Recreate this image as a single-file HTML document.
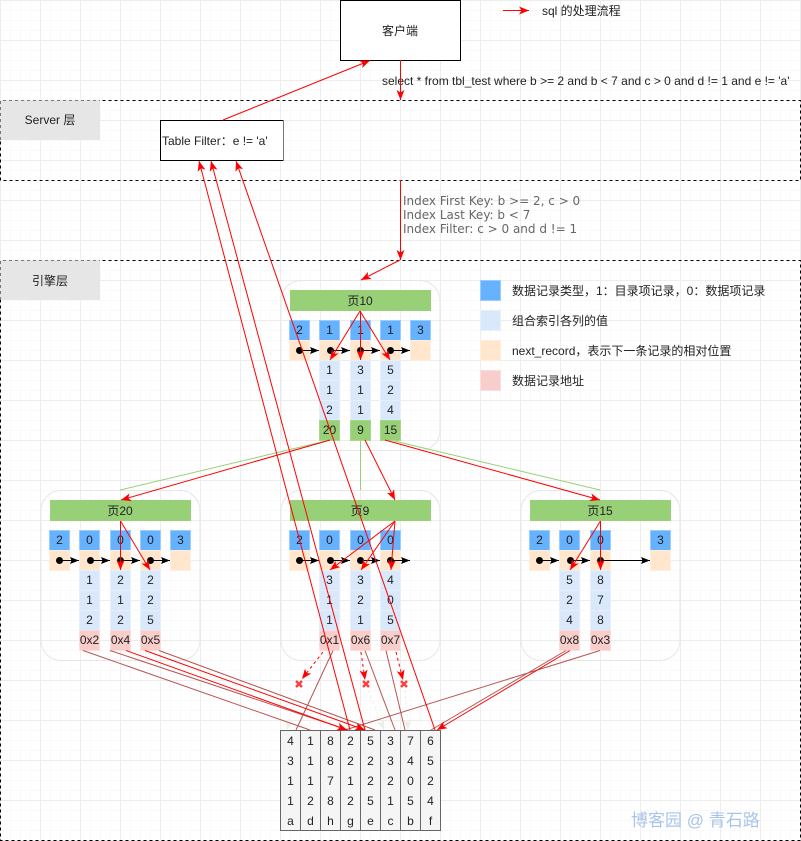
<!DOCTYPE html>
<html><head><meta charset="utf-8">
<style>
html,body{margin:0;padding:0;background:#fff;width:801px;height:841px;overflow:hidden}
svg{display:block}
text{font-family:"Liberation Sans","Noto Sans CJK SC",sans-serif;font-size:12px;fill:#222}
.m{text-anchor:middle}
.idx{font-family:"DejaVu Sans","Noto Sans CJK SC",sans-serif;font-size:12px;fill:#666}
.r{stroke:#f00;stroke-width:1;fill:none;marker-end:url(#ar)}
.rd{stroke:#f00;stroke-width:1;fill:none;stroke-dasharray:3 3;marker-end:url(#ar)}
.b{stroke:#b85450;stroke-width:1;fill:none}
.g{stroke:#97d077;stroke-width:1;fill:none}
.k{stroke:#000;stroke-width:1;fill:none;marker-end:url(#ak)}
.f{stroke:#eee;stroke-width:1;fill:none;stroke-dasharray:3 3;marker-end:url(#af)}
</style></head>
<body>
<svg xmlns="http://www.w3.org/2000/svg" width="801" height="841" viewBox="0 0 801 841">
<defs>
<pattern id="gmin" width="10" height="10" patternUnits="userSpaceOnUse"><path d="M0.5 0V10M0 0.5H10" stroke="#f9f9f9" stroke-width="1" fill="none"/></pattern>
<pattern id="gmaj" width="40" height="40" patternUnits="userSpaceOnUse"><path d="M0.5 0V40M0 0.5H40" stroke="#ededed" stroke-width="1" fill="none"/></pattern>
<marker id="ar" markerUnits="userSpaceOnUse" markerWidth="12" markerHeight="10" refX="10" refY="5" orient="auto"><path d="M0 1 L10 5 L0 9 L2.5 5 Z" fill="#f00"/></marker>
<marker id="ak" markerUnits="userSpaceOnUse" markerWidth="12" markerHeight="10" refX="10" refY="5" orient="auto"><path d="M1 1.5 L10 5 L1 8.5 L2.5 5 Z" fill="#000"/></marker>
<marker id="af" markerUnits="userSpaceOnUse" markerWidth="12" markerHeight="10" refX="10" refY="5" orient="auto"><path d="M0 1 L10 5 L0 9 L2.5 5 Z" fill="#eee"/></marker>
<g id="hd"><rect x="0" y="0" width="20" height="20" fill="#66b2ff" stroke="#99ccff"/><rect x="0" y="20" width="20" height="20" fill="#ffe6cc" stroke="#ffeedd"/></g>
<g id="cl"><rect x="0" y="0" width="20" height="20" fill="#dae8fc" stroke="#e6effc"/><rect x="0" y="20" width="20" height="20" fill="#dae8fc" stroke="#e6effc"/><rect x="0" y="40" width="20" height="20" fill="#dae8fc" stroke="#e6effc"/></g>
<rect id="ad" x="0" y="0" width="20" height="20" fill="#f8cecc" stroke="#fbdedc"/>
<rect id="gr" x="0" y="0" width="20" height="20" fill="#97d077" stroke="#a6d98a"/>
</defs>

<rect width="801" height="841" fill="#fff"/>
<rect width="801" height="841" fill="url(#gmin)"/>
<rect width="801" height="841" fill="url(#gmaj)"/>

<!-- layers -->
<rect x="0.5" y="100.5" width="800" height="80" fill="none" stroke="#000" stroke-dasharray="3 3"/>
<rect x="0.5" y="260.5" width="800" height="580" fill="none" stroke="#000" stroke-dasharray="3 3"/>
<rect x="0" y="100" width="100" height="40" fill="#e6e6e6"/>
<rect x="0" y="260" width="100" height="40" fill="#e6e6e6"/>
<path d="M0.5 140V100.5H100M0.5 300V260.5H100" fill="none" stroke="#777" stroke-dasharray="3 3"/>
<text class="m" x="50" y="124">Server 层</text>
<text class="m" x="50" y="285">引擎层</text>

<!-- top boxes -->
<rect x="340.5" y="0.5" width="120" height="60" fill="#fff" stroke="#000"/>
<text class="m" x="400" y="35">客户端</text>
<rect x="160.5" y="120.5" width="123" height="40" fill="#fff" stroke="#000"/>
<path d="M283.5 120V161" stroke="#777" fill="none"/>
<text x="162" y="145">Table Filter：e != 'a'</text>
<text x="382" y="85">select * from tbl_test where b &gt;= 2 and b &lt; 7 and c &gt; 0 and d != 1 and e != 'a'</text>
<text x="542" y="15">sql 的处理流程</text>
<text class="idx" x="403" y="205">Index First Key:  b &gt;= 2, c &gt; 0</text>
<text class="idx" x="403" y="219">Index Last Key:  b &lt; 7</text>
<text class="idx" x="403" y="233">Index Filter:  c &gt; 0 and d != 1</text>

<!-- legend -->
<rect x="480.5" y="280.5" width="20" height="20" fill="#66b2ff" stroke="#99ccff"/>
<rect x="480.5" y="310.5" width="20" height="20" fill="#dae8fc" stroke="#e6effc"/>
<rect x="480.5" y="340.5" width="20" height="20" fill="#ffe6cc" stroke="#ffeedd"/>
<rect x="480.5" y="370.5" width="20" height="20" fill="#f8cecc" stroke="#fbdedc"/>
<text x="512" y="295">数据记录类型，1：目录项记录，0：数据项记录</text>
<text x="512" y="325">组合索引各列的值</text>
<text x="512" y="355">next_record，表示下一条记录的相对位置</text>
<text x="512" y="385">数据记录地址</text>

<!-- containers -->
<rect x="281" y="280.5" width="159" height="170" rx="20" fill="none" stroke="#e6e6e6"/>
<rect x="41" y="490.5" width="159" height="170" rx="20" fill="none" stroke="#e6e6e6"/>
<rect x="281" y="490.5" width="159" height="170" rx="20" fill="none" stroke="#e6e6e6"/>
<rect x="521" y="490.5" width="159" height="170" rx="20" fill="none" stroke="#e6e6e6"/>

<!-- green connectors -->
<path class="g" d="M330 440L120 490M360.5 440V490M390 440L600 490"/>

<!-- headers -->
<rect x="290" y="290" width="141" height="21" fill="#97d077"/>
<rect x="50" y="500" width="141" height="21" fill="#97d077"/>
<rect x="290" y="500" width="141" height="21" fill="#97d077"/>
<rect x="530" y="500" width="141" height="21" fill="#97d077"/>
<text class="m" x="360" y="305">页10</text>
<text class="m" x="120" y="515">页20</text>
<text class="m" x="360" y="515">页9</text>
<text class="m" x="600" y="515">页15</text>

<!-- page 10 cells -->
<use href="#hd" x="289.5" y="320.5"/><use href="#hd" x="319.5" y="320.5"/><use href="#hd" x="350.5" y="320.5"/><use href="#hd" x="380.5" y="320.5"/><use href="#hd" x="410.5" y="320.5"/>
<use href="#cl" x="319.5" y="360.5"/><use href="#cl" x="350.5" y="360.5"/><use href="#cl" x="380.5" y="360.5"/>
<use href="#gr" x="319.5" y="420.5"/><use href="#gr" x="350.5" y="420.5"/><use href="#gr" x="380.5" y="420.5"/>
<text class="m" x="299.5" y="334">2</text><text class="m" x="329.5" y="334">1</text><text class="m" x="360.5" y="334">1</text><text class="m" x="390.5" y="334">1</text><text class="m" x="420.5" y="334">3</text>
<text class="m" x="329.5" y="374">1</text><text class="m" x="360.5" y="374">3</text><text class="m" x="390.5" y="374">5</text>
<text class="m" x="329.5" y="394">1</text><text class="m" x="360.5" y="394">1</text><text class="m" x="390.5" y="394">2</text>
<text class="m" x="329.5" y="414">2</text><text class="m" x="360.5" y="414">1</text><text class="m" x="390.5" y="414">4</text>
<text class="m" x="329.5" y="434">20</text><text class="m" x="360.5" y="434">9</text><text class="m" x="390.5" y="434">15</text>

<!-- page 20 cells -->
<use href="#hd" x="49.5" y="530.5"/><use href="#hd" x="79.5" y="530.5"/><use href="#hd" x="110.5" y="530.5"/><use href="#hd" x="140.5" y="530.5"/><use href="#hd" x="170.5" y="530.5"/>
<use href="#cl" x="79.5" y="570.5"/><use href="#cl" x="110.5" y="570.5"/><use href="#cl" x="140.5" y="570.5"/>
<use href="#ad" x="79.5" y="630.5"/><use href="#ad" x="110.5" y="630.5"/><use href="#ad" x="140.5" y="630.5"/>
<text class="m" x="59.5" y="544">2</text><text class="m" x="89.5" y="544">0</text><text class="m" x="120.5" y="544">0</text><text class="m" x="150.5" y="544">0</text><text class="m" x="180.5" y="544">3</text>
<text class="m" x="89.5" y="584">1</text><text class="m" x="120.5" y="584">2</text><text class="m" x="150.5" y="584">2</text>
<text class="m" x="89.5" y="604">1</text><text class="m" x="120.5" y="604">1</text><text class="m" x="150.5" y="604">2</text>
<text class="m" x="89.5" y="624">2</text><text class="m" x="120.5" y="624">2</text><text class="m" x="150.5" y="624">5</text>
<text class="m" x="89.5" y="644">0x2</text><text class="m" x="120.5" y="644">0x4</text><text class="m" x="150.5" y="644">0x5</text>

<!-- page 9 cells -->
<use href="#hd" x="289.5" y="530.5"/><use href="#hd" x="319.5" y="530.5"/><use href="#hd" x="350.5" y="530.5"/><use href="#hd" x="380.5" y="530.5"/>
<use href="#cl" x="319.5" y="570.5"/><use href="#cl" x="350.5" y="570.5"/><use href="#cl" x="380.5" y="570.5"/>
<use href="#ad" x="319.5" y="630.5"/><use href="#ad" x="350.5" y="630.5"/><use href="#ad" x="380.5" y="630.5"/>
<text class="m" x="299.5" y="544">2</text><text class="m" x="329.5" y="544">0</text><text class="m" x="360.5" y="544">0</text><text class="m" x="390.5" y="544">0</text>
<text class="m" x="329.5" y="584">3</text><text class="m" x="360.5" y="584">3</text><text class="m" x="390.5" y="584">4</text>
<text class="m" x="329.5" y="604">1</text><text class="m" x="360.5" y="604">2</text><text class="m" x="390.5" y="604">0</text>
<text class="m" x="329.5" y="624">1</text><text class="m" x="360.5" y="624">1</text><text class="m" x="390.5" y="624">5</text>
<text class="m" x="329.5" y="644">0x1</text><text class="m" x="360.5" y="644">0x6</text><text class="m" x="390.5" y="644">0x7</text>

<!-- page 15 cells -->
<use href="#hd" x="529.5" y="530.5"/><use href="#hd" x="559.5" y="530.5"/><use href="#hd" x="590.5" y="530.5"/><use href="#hd" x="650.5" y="530.5"/>
<use href="#cl" x="559.5" y="570.5"/><use href="#cl" x="590.5" y="570.5"/>
<use href="#ad" x="559.5" y="630.5"/><use href="#ad" x="590.5" y="630.5"/>
<text class="m" x="539.5" y="544">2</text><text class="m" x="569.5" y="544">0</text><text class="m" x="600.5" y="544">0</text><text class="m" x="660.5" y="544">3</text>
<text class="m" x="569.5" y="584">5</text><text class="m" x="600.5" y="584">8</text>
<text class="m" x="569.5" y="604">2</text><text class="m" x="600.5" y="604">7</text>
<text class="m" x="569.5" y="624">4</text><text class="m" x="600.5" y="624">8</text>
<text class="m" x="569.5" y="644">0x8</text><text class="m" x="600.5" y="644">0x3</text>

<!-- black next-record arrows -->
<g fill="#000">
<circle cx="299.5" cy="350.5" r="3.5"/><circle cx="330.5" cy="350.5" r="3.5"/><circle cx="360.5" cy="350.5" r="3.5"/><circle cx="390.5" cy="350.5" r="3.5"/>
<circle cx="59.5" cy="560.5" r="3.5"/><circle cx="90.5" cy="560.5" r="3.5"/><circle cx="120.5" cy="560.5" r="3.5"/><circle cx="150.5" cy="560.5" r="3.5"/>
<circle cx="299.5" cy="560.5" r="3.5"/><circle cx="330.5" cy="560.5" r="3.5"/><circle cx="360.5" cy="560.5" r="3.5"/><circle cx="390.5" cy="560.5" r="3.5"/>
<circle cx="539.5" cy="560.5" r="3.5"/><circle cx="570.5" cy="560.5" r="3.5"/><circle cx="600.5" cy="560.5" r="3.5"/>
</g>
<path class="k" d="M299 350.5H319"/><path class="k" d="M330 350.5H350"/><path class="k" d="M360 350.5H380"/><path class="k" d="M390 350.5H410"/>
<path class="k" d="M59 560.5H79"/><path class="k" d="M90 560.5H110"/><path class="k" d="M120 560.5H140"/><path class="k" d="M150 560.5H170"/>
<path class="k" d="M299 560.5H319"/><path class="k" d="M330 560.5H350"/><path class="k" d="M360 560.5H380"/><path class="k" d="M390 560.5H410"/>
<path class="k" d="M539 560.5H559"/><path class="k" d="M570 560.5H590"/><path class="k" d="M600 560.5H650"/>

<!-- bottom table -->
<g fill="#f5f5f5" stroke="#666">
<rect x="280.5" y="730.5" width="20" height="100"/><rect x="300.5" y="730.5" width="20" height="100"/><rect x="320.5" y="730.5" width="20" height="100"/><rect x="340.5" y="730.5" width="20" height="100"/><rect x="360.5" y="730.5" width="20" height="100"/><rect x="380.5" y="730.5" width="20" height="100"/><rect x="400.5" y="730.5" width="20" height="100"/><rect x="420.5" y="730.5" width="20" height="100"/>
</g>
<g>
<text class="m" x="290.5" y="745">4</text><text class="m" x="310.5" y="745">1</text><text class="m" x="330.5" y="745">8</text><text class="m" x="350.5" y="745">2</text><text class="m" x="370.5" y="745">5</text><text class="m" x="390.5" y="745">3</text><text class="m" x="410.5" y="745">7</text><text class="m" x="430.5" y="745">6</text>
<text class="m" x="290.5" y="765">3</text><text class="m" x="310.5" y="765">1</text><text class="m" x="330.5" y="765">8</text><text class="m" x="350.5" y="765">2</text><text class="m" x="370.5" y="765">2</text><text class="m" x="390.5" y="765">3</text><text class="m" x="410.5" y="765">4</text><text class="m" x="430.5" y="765">5</text>
<text class="m" x="290.5" y="785">1</text><text class="m" x="310.5" y="785">1</text><text class="m" x="330.5" y="785">7</text><text class="m" x="350.5" y="785">1</text><text class="m" x="370.5" y="785">2</text><text class="m" x="390.5" y="785">2</text><text class="m" x="410.5" y="785">0</text><text class="m" x="430.5" y="785">2</text>
<text class="m" x="290.5" y="805">1</text><text class="m" x="310.5" y="805">2</text><text class="m" x="330.5" y="805">8</text><text class="m" x="350.5" y="805">2</text><text class="m" x="370.5" y="805">5</text><text class="m" x="390.5" y="805">1</text><text class="m" x="410.5" y="805">5</text><text class="m" x="430.5" y="805">4</text>
<text class="m" x="290.5" y="825">a</text><text class="m" x="310.5" y="825">d</text><text class="m" x="330.5" y="825">h</text><text class="m" x="350.5" y="825">g</text><text class="m" x="370.5" y="825">e</text><text class="m" x="390.5" y="825">c</text><text class="m" x="410.5" y="825">b</text><text class="m" x="430.5" y="825">f</text>
</g>

<!-- faint dashed -->
<path class="f" d="M297 690L287 730"/><path class="f" d="M368 690L384 730"/><path class="f" d="M405 690L408 730"/>

<!-- brown address links -->
<path class="b" d="M83 650.5L310 730M110 650.5L348 730M159 650.5L375 730M333 650.5L296 730M365 650.5L395 730M386 650.5L405 730M566 650.5L431 730M600 650.5L345 730"/>

<!-- red sql flow -->
<path class="r" d="M503 10.5H529"/>
<path class="r" d="M400.5 60V100"/>
<path class="r" d="M400.5 180V260"/>
<path class="r" d="M400 260L361 280"/>
<path class="r" d="M223 120L370 60.5"/>
<path class="r" d="M360 311L330 360"/><path class="r" d="M360.5 311V360"/><path class="r" d="M360 311L390 360"/>
<path class="r" d="M330 440L121 500"/><path class="r" d="M365 440L395 500"/><path class="r" d="M385 440L600 500"/>
<path class="r" d="M120.5 521V570"/><path class="r" d="M120.5 521L150 570"/>
<path class="r" d="M395 521L330 570"/><path class="r" d="M395 521L361 570"/><path class="r" d="M395 521L391 570"/>
<path class="r" d="M600.5 521L570 570"/><path class="r" d="M600.5 521V570"/>
<path class="r" d="M126 650.5L347 730"/><path class="r" d="M145 650.5L365 730"/><path class="r" d="M570 650.5L437 730"/>
<path class="r" d="M350 730L199 161"/><path class="r" d="M365 730L211 161"/><path class="r" d="M435 730L236 161"/>
<path class="rd" d="M323 652L302 679"/><path class="rd" d="M361 652L365 680"/><path class="rd" d="M396 652L403 680"/>

<!-- x markers -->
<g stroke="#f00" stroke-width="2.5" fill="none" opacity="0.75">
<path d="M296 681L302 687M302 681L296 687"/>
<path d="M363 681L369 687M369 681L363 687"/>
<path d="M401 681L407 687M407 681L401 687"/>
</g>

<!-- watermark -->
<text x="631" y="826" style="font-size:17px;fill:#a9c4eb">博客园 @ 青石路</text>
</svg>
</body></html>
